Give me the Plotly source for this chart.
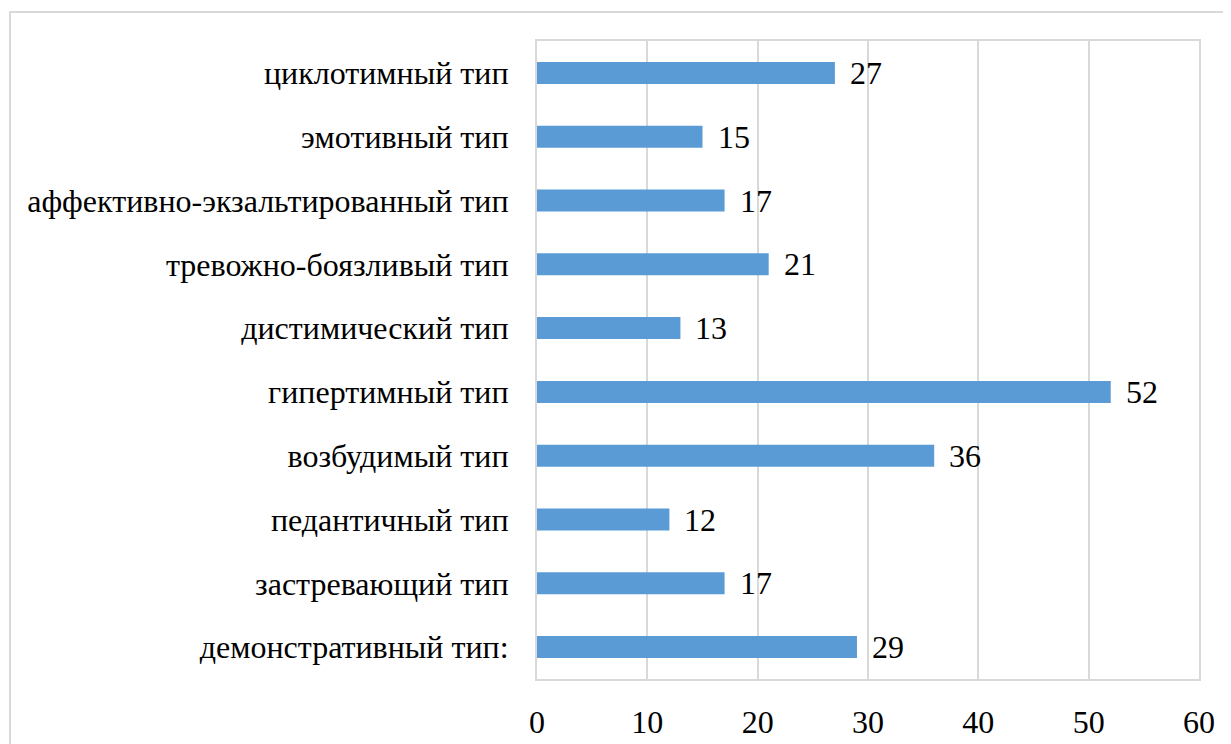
import plotly.graph_objects as go

categories = ["циклотимный тип", "эмотивный тип", "аффективно-экзальтированный тип",
              "тревожно-боязливый тип", "дистимический тип", "гипертимный тип",
              "возбудимый тип", "педантичный тип", "застревающий тип", "демонстративный тип:"]
values = [27, 15, 17, 21, 13, 52, 36, 12, 17, 29]
tick_vals = [0, 10, 20, 30, 40, 50, 60]

cats = categories[::-1]
vals = values[::-1]

FONT = "'Times New Roman', 'Liberation Serif', 'DejaVu Serif', serif"
GRID = "#d9d9d9"
FS = 32

L, T, PW, PH = 529, 33, 662, 640

fig = go.Figure(go.Bar(
    y=cats, x=vals, orientation="h",
    marker=dict(color="#5b9bd5", line=dict(width=0)),
    width=0.345,
    hoverinfo="skip",
))

for c, v in zip(cats, vals):
    fig.add_annotation(x=v, y=c, text=str(v), showarrow=False, xanchor="left",
                       xshift=13, font=dict(family=FONT, size=FS, color="#000000"))

fig.add_shape(type="rect", xref="paper", yref="paper",
              x0=(2 - L) / PW, x1=1.2, y0=-0.3, y1=(T + PH - 4) / PH,
              line=dict(color=GRID, width=2), fillcolor="rgba(0,0,0,0)", layer="below")

fig.update_layout(
    width=1231, height=744,
    margin=dict(l=L, r=1231 - L - PW, t=T, b=744 - T - PH),
    paper_bgcolor="white", plot_bgcolor="white",
    showlegend=False,
    font=dict(family=FONT, size=FS, color="#000000"),
    xaxis=dict(range=[0, 60], tickvals=tick_vals, showgrid=True, gridcolor=GRID, gridwidth=2,
               zeroline=False, showline=True, linecolor=GRID, linewidth=2, mirror=True,
               ticks="", ticklabelstandoff=14, tickfont=dict(size=FS, family=FONT)),
    yaxis=dict(showgrid=False, zeroline=False, showline=True, linecolor=GRID, linewidth=2,
               mirror=True, ticks="", ticklabelstandoff=20, tickfont=dict(size=FS, family=FONT)),
)

fig.write_html("out.html")
